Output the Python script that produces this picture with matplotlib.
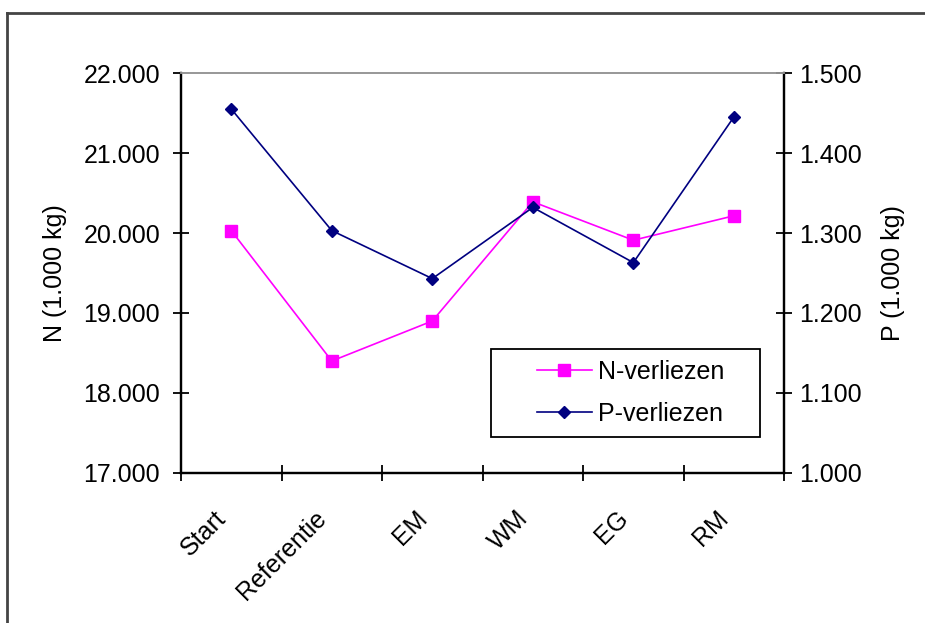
import matplotlib.pyplot as plt
from matplotlib.lines import Line2D
from matplotlib.patches import Rectangle
from matplotlib.ticker import FuncFormatter, FixedLocator
from matplotlib.transforms import ScaledTranslation

plt.rcParams["font.family"] = ["Liberation Sans", "DejaVu Sans"]

categories = ["Start", "Referentie", "EM", "WM", "EG", "RM"]
n_losses = [20030, 18400, 18900, 20390, 19910, 20215]
p_losses = [1455, 1303, 1243, 1332, 1263, 1445]

pink = "#FF00FF"
navy = "#000080"
fs = 18


def dot_thousands(v, pos):
    return f"{v:,.0f}".replace(",", ".")


fig = plt.figure(figsize=(9.25, 6.23), dpi=100)
ax = fig.add_axes([0.1957, 0.2408, 0.652, 0.642])
ax2 = ax.twinx()

x = list(range(len(categories)))
(ln_n,) = ax.plot(x, n_losses, color=pink, lw=1.2, marker="s", ms=8, label="N-verliezen")
(ln_p,) = ax2.plot(x, p_losses, color=navy, lw=1.2, marker="D", ms=6.5, label="P-verliezen")

ax.set_xlim(-0.5, len(categories) - 0.5)
ax.set_ylim(17000, 22000)
ax2.set_ylim(1000, 1500)
ax.set_yticks(range(17000, 22001, 1000))
ax2.set_yticks(range(1000, 1501, 100))
ax.yaxis.set_major_formatter(FuncFormatter(dot_thousands))
ax2.yaxis.set_major_formatter(FuncFormatter(dot_thousands))

# category boundaries get the visible ticks, labels sit at centres
ax.xaxis.set_major_locator(FixedLocator([i - 0.5 for i in range(len(categories) + 1)]))
ax.xaxis.set_major_formatter(FuncFormatter(lambda v, p: ""))
ax.xaxis.set_minor_locator(FixedLocator(x))
ax.set_xticklabels(categories, minor=True, rotation=45, ha="right", va="center",
                   rotation_mode="anchor")
ax.tick_params(axis="x", which="major", direction="inout", length=12, width=1.3)
ax.tick_params(axis="x", which="minor", length=0, pad=30, labelsize=fs)
ax.tick_params(axis="y", direction="inout", length=12, width=1.3, labelsize=fs, pad=9)
ax2.tick_params(axis="y", direction="inout", length=12, width=1.3, labelsize=fs, pad=5)

shift = ScaledTranslation(-9 / 100, 0, fig.dpi_scale_trans)
for lbl in ax.get_xticklabels(minor=True):
    lbl.set_transform(lbl.get_transform() + shift)

for a in (ax, ax2):
    a.spines["top"].set_color("#999999")
    a.spines["top"].set_linewidth(1.3)
    a.spines["left"].set_linewidth(1.6)
    a.spines["right"].set_linewidth(1.6)
    a.spines["bottom"].set_linewidth(1.6)

ax.set_ylabel("N (1.000 kg)", fontsize=fs, va="center")
ax.yaxis.set_label_coords(-0.209, 0.5)
ax2.set_ylabel("P (1.000 kg)", fontsize=fs, va="center")
ax2.yaxis.set_label_coords(1.181, 0.5)

# legend frame drawn separately so the entries can sit centred inside it
ax2.add_patch(Rectangle((0.514, 0.09), 0.446, 0.22, transform=ax2.transAxes,
                        facecolor="white", edgecolor="black", lw=1.3, zorder=4))
leg = ax2.legend(
    [ln_n, ln_p],
    ["N-verliezen", "P-verliezen"],
    loc="center",
    bbox_to_anchor=(0.745, 0.2),
    fontsize=fs,
    frameon=False,
    handlelength=2.2,
    handletextpad=0.25,
    labelspacing=0.7,
)
leg.set_zorder(5)

# outer chart frame
fig.add_artist(Line2D([7 / 925, 7 / 925], [0, 1 - 13 / 623], color="#444444", lw=2))
fig.add_artist(Line2D([7 / 925, 1], [1 - 13 / 623, 1 - 13 / 623], color="#444444", lw=2))

fig.savefig("out.png", dpi=100)
